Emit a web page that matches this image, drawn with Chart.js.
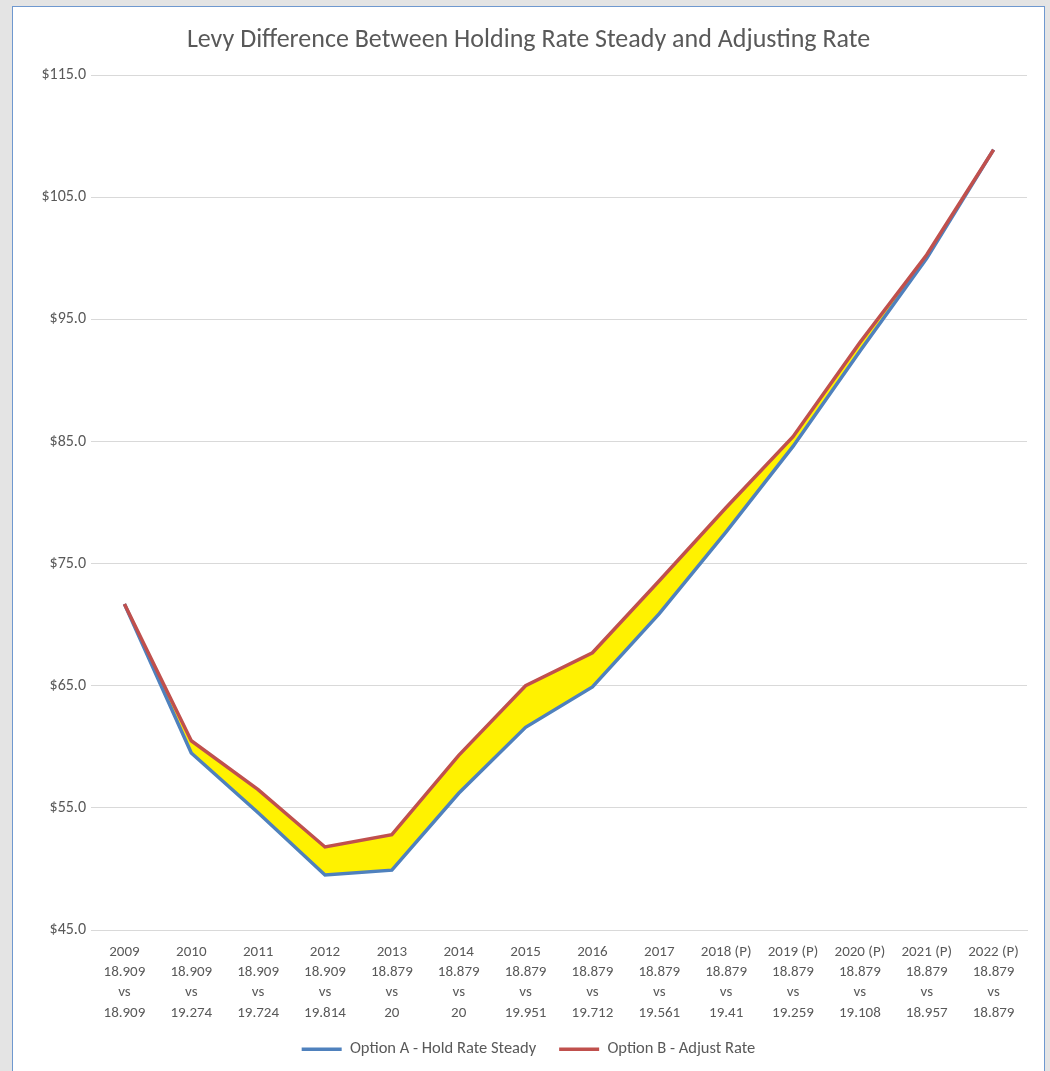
<!DOCTYPE html>
<html>
<head>
<meta charset="utf-8">
<script src="https://cdn.jsdelivr.net/npm/chart.js@4"></script>
<style>
  html, body { margin: 0; padding: 0; background: #e4e4e4; }
  #frame {
    position: absolute; left: 12px; top: 6px; width: 1033px; height: 1070px;
    background: #fff; border: 1px solid #6f98cf; box-sizing: border-box;
  }
  #frame canvas { display: block; }
</style>
</head>
<body>
<div id="frame"><canvas id="levyChart" width="1031" height="1068"></canvas></div>
<script>
// categories: year, held rate, "vs", adjusted rate
const years = ['2009', '2010', '2011', '2012', '2013', '2014', '2015', '2016', '2017',
  '2018 (P)', '2019 (P)', '2020 (P)', '2021 (P)', '2022 (P)'];
const heldRates = ['18.909', '18.909', '18.909', '18.909', '18.879', '18.879', '18.879',
  '18.879', '18.879', '18.879', '18.879', '18.879', '18.879', '18.879'];
const adjustedRates = ['18.909', '19.274', '19.724', '19.814', '20', '20', '19.951',
  '19.712', '19.561', '19.41', '19.259', '19.108', '18.957', '18.879'];

const holdSteady = [71.7, 59.5, 54.6, 49.5, 49.9, 56.2, 61.6, 64.9, 70.9, 77.6, 84.6, 92.4, 100.0, 108.9];
const adjustRate = [71.7, 60.5, 56.5, 51.8, 52.8, 59.3, 65.0, 67.7, 73.6, 79.6, 85.4, 93.1, 100.3, 108.9];

const FONT = "Carlito, Calibri, Lato, sans-serif";
const TEXT = '#595959';

const labels = years.map((y, i) => [y, heldRates[i], 'vs', adjustedRates[i]]);

const ctx = document.getElementById('levyChart').getContext('2d');
new Chart(ctx, {
    type: 'line',
    data: {
        labels: labels,
        datasets: [{
            label: 'Option A - Hold Rate Steady',
            data: holdSteady,
            borderColor: '#4F81BD',
            backgroundColor: '#FFF200',
            borderWidth: 3.5,
            pointRadius: 0,
            fill: '+1',
            order: 1
        }, {
            label: 'Option B - Adjust Rate',
            data: adjustRate,
            borderColor: '#C0504D',
            backgroundColor: '#C0504D',
            borderWidth: 3.5,
            pointRadius: 0,
            fill: false,
            order: 0
        }]
    },
    options: {
        responsive: false,
        animation: false,
        layout: { padding: { left: 17, right: 17, top: 0, bottom: 9 } },
        plugins: {
            filler: { drawTime: 'beforeDatasetsDraw' },
            tooltip: { enabled: false },
            title: {
                display: true,
                text: 'Levy Difference Between Holding Rate Steady and Adjusting Rate',
                color: TEXT,
                font: { family: FONT, size: 26, weight: 'normal' },
                padding: { top: 18, bottom: 19 }
            },
            legend: {
                position: 'bottom',
                maxHeight: 48,
                labels: {
                    color: TEXT,
                    font: { family: FONT, size: 16.5 },
                    usePointStyle: true,
                    pointStyleWidth: 40,
                    pointStyle: 'line',
                    boxHeight: 4,
                    padding: 23,
                    sort: (a, b) => a.datasetIndex - b.datasetIndex
                }
            }
        },
        scales: {
            x: {
                offset: true,
                grid: { display: false },
                border: { color: '#D9D9D9' },
                ticks: {
                    color: TEXT,
                    font: { family: FONT, size: 15, lineHeight: 1.35 },
                    maxRotation: 0,
                    autoSkip: false,
                    padding: 4
                },
                afterFit: (scale) => { scale.height = 88; }
            },
            y: {
                min: 45,
                max: 115,
                grid: { color: '#D9D9D9', drawTicks: false },
                border: { display: false },
                ticks: {
                    stepSize: 10,
                    color: TEXT,
                    font: { family: FONT, size: 16 },
                    padding: 5,
                    callback: (v) => '$' + v.toFixed(1)
                },
                afterFit: (scale) => { scale.width = 61; }
            }
        }
    }
});
</script>
</body>
</html>
